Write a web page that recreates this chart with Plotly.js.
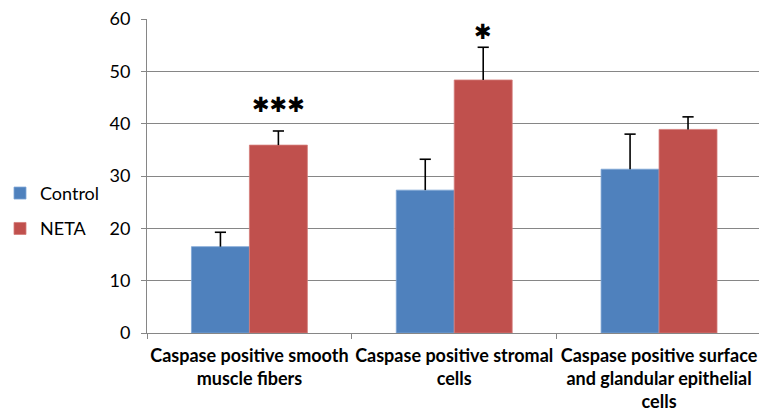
<!DOCTYPE html>
<html>
<head>
<meta charset="utf-8">
<script src="https://cdn.plot.ly/plotly-3.0.1.min.js"></script>
<style>html,body{margin:0;padding:0;background:#fff;}#chart{width:759px;height:414px;}</style>
</head>
<body>
<div id="chart"></div>
<script>
const categories = [
  "Caspase positive smooth<br>muscle fibers",
  "Caspase positive stromal<br>cells",
  "Caspase positive surface<br>and glandular epithelial<br>cells"
];
const controlValues = [16.5, 27.3, 31.3];
const controlErrors = [2.75, 5.9, 6.7];
const netaValues = [35.9, 48.35, 38.9];
const netaErrors = [2.7, 6.25, 2.4];
const significance = ["✱✱✱", "✱", ""];
const significanceY = [43.6, 57.5, null];
const yTicks = [0, 10, 20, 30, 40, 50, 60];

const BARGAP = 0.434;
const halfOffset = (1 - BARGAP) / 4;   // centre of each bar inside its group

function stemError(arr) {
  return {type: "data", visible: true, symmetric: false, array: arr,
          arrayminus: arr.map(() => 0), color: "#000", thickness: 1.6, width: 0};
}

const capMarker = {symbol: "line-ew-open", size: 8, color: "#000", line: {color: "#000", width: 1.6}};

const traces = [
  {
    type: "bar", name: "Control", x: categories, y: controlValues,
    marker: {color: "#4F81BD", line: {color: "#7FA6D6", width: 0.8}},
    error_y: stemError(controlErrors), legendgroup: "a"
  },
  {
    type: "bar", name: "NETA", x: categories, y: netaValues,
    marker: {color: "#C0504D", line: {color: "#D47C7A", width: 0.8}},
    error_y: stemError(netaErrors), legendgroup: "b"
  },
  // caps at the top of the error bars (on a numeric twin axis of the category axis)
  {
    type: "scatter", mode: "markers", xaxis: "x2", yaxis: "y", showlegend: false,
    x: controlValues.map((v, i) => i - halfOffset),
    y: controlValues.map((v, i) => v + controlErrors[i]),
    marker: capMarker, cliponaxis: false
  },
  {
    type: "scatter", mode: "markers", xaxis: "x2", yaxis: "y", showlegend: false,
    x: netaValues.map((v, i) => i + halfOffset),
    y: netaValues.map((v, i) => v + netaErrors[i]),
    marker: capMarker, cliponaxis: false
  }
];

const annotations = [];
significance.forEach((s, i) => {
  if (!s) return;
  annotations.push({
    x: i + halfOffset, xref: "x2",
    y: significanceY[i], yref: "y",
    xanchor: "center", yanchor: "middle", showarrow: false, text: s,
    font: {family: "DejaVu Sans", size: 21, color: "#000"}
  });
});

const layout = {
  width: 759, height: 414,
  margin: {l: 146, r: 0, t: 19, b: 81},
  paper_bgcolor: "#fff", plot_bgcolor: "#fff",
  font: {family: "Lato, 'Open Sans', sans-serif", color: "#000", size: 18},
  barmode: "group", bargap: BARGAP, bargroupgap: 0,
  showlegend: true,
  legend: {
    x: -0.240, xanchor: "left", y: 0.389, yanchor: "middle",
    font: {size: 18, color: "#000"}, traceorder: "grouped", tracegroupgap: 9,
    itemwidth: 30, bgcolor: "rgba(0,0,0,0)"
  },
  xaxis: {
    type: "category", range: [-0.5, 2.488],
    showline: true, linecolor: "#868686", linewidth: 1,
    ticks: "outside", tickson: "boundaries", ticklen: 5, tickcolor: "#868686",
    tickfont: {size: 18, color: "#000", family: "Lato, sans-serif", weight: "bold"},
    tickangle: 0, ticklabelstandoff: 6,
    showgrid: false, zeroline: false, automargin: false
  },
  xaxis2: {
    overlaying: "x", range: [-0.5, 2.488], visible: false, showgrid: false, zeroline: false
  },
  yaxis: {
    range: [0, 60], tickvals: yTicks, ticktext: yTicks.map(String),
    showline: true, linecolor: "#868686", linewidth: 1,
    ticks: "outside", ticklen: 5, tickcolor: "#868686",
    showgrid: true, gridcolor: "#868686", gridwidth: 1,
    zeroline: false, tickfont: {size: 18, color: "#000"},
    ticklabelstandoff: 7, automargin: false
  },
  annotations: annotations
};

Plotly.newPlot("chart", traces, layout, {displayModeBar: false, staticPlot: true});
</script>
</body>
</html>
